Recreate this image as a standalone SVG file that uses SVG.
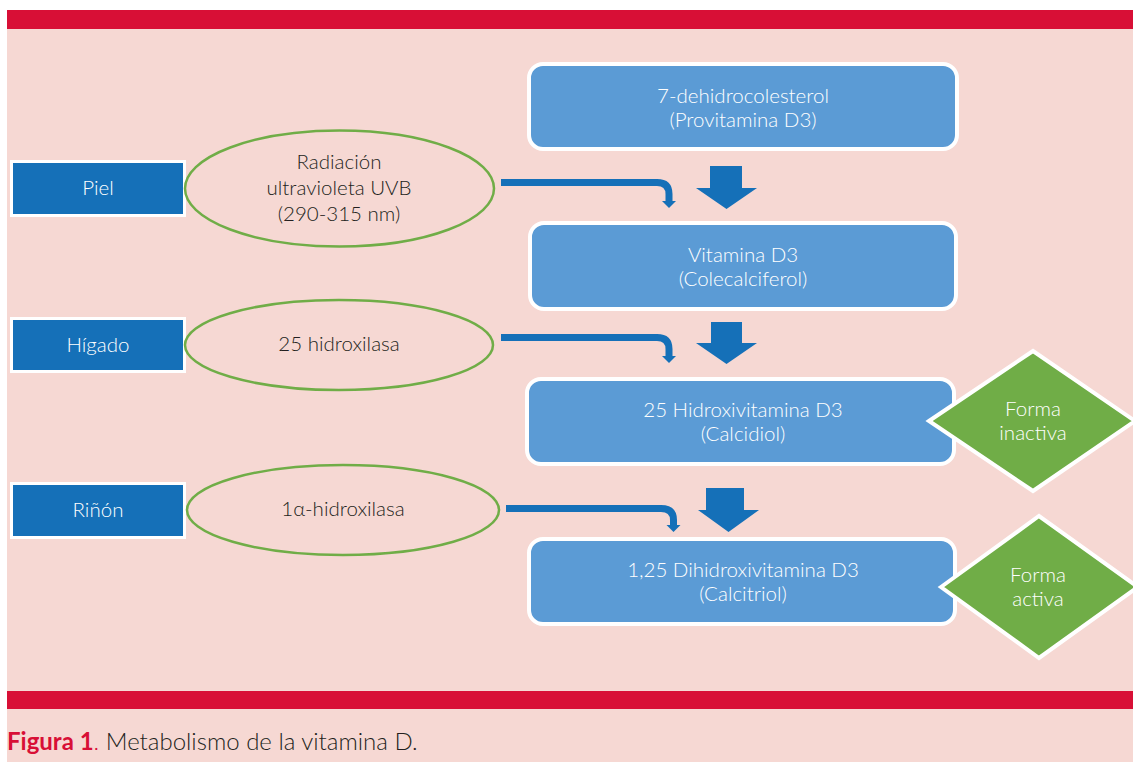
<svg xmlns="http://www.w3.org/2000/svg" width="1133" height="762" viewBox="0 0 1133 762">
<defs>
<style>
text{font-family:Lato,"Open Sans",sans-serif;font-size:20.5px;font-weight:300;text-anchor:middle}
.org rect{fill:#1570b8;stroke:#fff;stroke-width:3}
.org text{fill:#fff}
.enz ellipse{fill:none;stroke:#70ad47;stroke-width:2.5}
.enz text{fill:#231f20}
.cmp rect{fill:#5b9bd5;stroke:#fff;stroke-width:4}
.cmp text{fill:#fff}
.frm polygon{fill:#70ad47;stroke:#fff;stroke-width:4;stroke-linejoin:miter}
.frm text{fill:#fff}
.bent{fill:none;stroke:#1570b8;stroke-width:7}
.head{fill:#1570b8}
</style>
</defs>
<rect x="0" y="0" width="1133" height="762" fill="#fff"/>
<rect x="7" y="10" width="1126" height="752" fill="#f6d8d3"/>
<rect x="7" y="10" width="1126" height="19" fill="#d80f36"/>
<rect x="7" y="691" width="1126" height="18" fill="#d80f36"/>

<g id="piel" class="org"><rect x="11.5" y="161.5" width="173" height="54"/><text x="98" y="195">Piel</text></g>
<g id="higado" class="org"><rect x="11.5" y="318.5" width="173" height="53"/><text x="98" y="352">Hígado</text></g>
<g id="rinon" class="org"><rect x="11.5" y="483.5" width="173" height="54"/><text x="98" y="517">Riñón</text></g>

<g id="uvb" class="enz"><ellipse cx="339.5" cy="188.5" rx="154.5" ry="58"/>
<text x="339" y="169">Radiación</text><text x="339" y="195">ultravioleta UVB</text><text x="339" y="221">(290-315 nm)</text></g>
<g id="hidroxilasa25" class="enz"><ellipse cx="339" cy="345" rx="154" ry="45"/><text x="339" y="351">25 hidroxilasa</text></g>
<g id="hidroxilasa1a" class="enz"><ellipse cx="343" cy="510" rx="156" ry="45"/><text x="343" y="516">1α-hidroxilasa</text></g>

<g id="provitamina" class="cmp"><rect x="529" y="64" width="428" height="85" rx="14"/>
<text x="743" y="103">7-dehidrocolesterol</text><text x="743" y="127">(Provitamina D3)</text></g>
<g id="vitaminaD3" class="cmp"><rect x="530" y="223" width="426" height="86" rx="14"/>
<text x="743" y="262">Vitamina D3</text><text x="743" y="286">(Colecalciferol)</text></g>
<g id="calcidiol" class="cmp"><rect x="527" y="379" width="427" height="85" rx="14"/>
<text x="743" y="417">25 Hidroxivitamina D3</text><text x="743" y="441">(Calcidiol)</text></g>
<g id="calcitriol" class="cmp"><rect x="529" y="539" width="426" height="85" rx="14"/>
<text x="743" y="577">1,25 Dihidroxivitamina D3</text><text x="743" y="601">(Calcitriol)</text></g>

<g id="inactiva" class="frm"><polygon points="929,421 1033,351 1135,421 1033,491"/>
<text x="1033" y="416">Forma</text><text x="1033" y="440">inactiva</text></g>
<g id="activa" class="frm"><polygon points="941,587 1039,516 1138,587 1039,658"/>
<text x="1038" y="582">Forma</text><text x="1038" y="606">activa</text></g>

<g id="connectors">
<path class="bent" d="M501 182.5 H657 Q669 182.5 669 194 V202"/>
<polygon class="head" points="662,201 676,201 669,208"/>
<path class="bent" d="M501 337.5 H657 Q669 337.5 669 349 V357"/>
<polygon class="head" points="662,356 676,356 669,363"/>
<path class="bent" d="M506 508.5 H661 Q673.5 508.5 673.5 520 V526"/>
<polygon class="head" points="666.5,525 680.5,525 673.5,532"/>
<polygon class="head" points="710,166 742,166 742,188 757,188 726.5,209 696,188 710,188"/>
<polygon class="head" points="711,322 742,322 742,343 757,343 726.5,364 696,343 711,343"/>
<polygon class="head" points="706,488 744,488 744,510 759,510 728.5,532 698,510 706,510"/>
</g>

<text x="7" y="750" style="font-size:24px;text-anchor:start" fill="#231f20"><tspan fill="#d80f36" font-weight="bold">Figura 1</tspan><tspan fill="#d80f36">.</tspan> Metabolismo de la vitamina D.</text>
</svg>
